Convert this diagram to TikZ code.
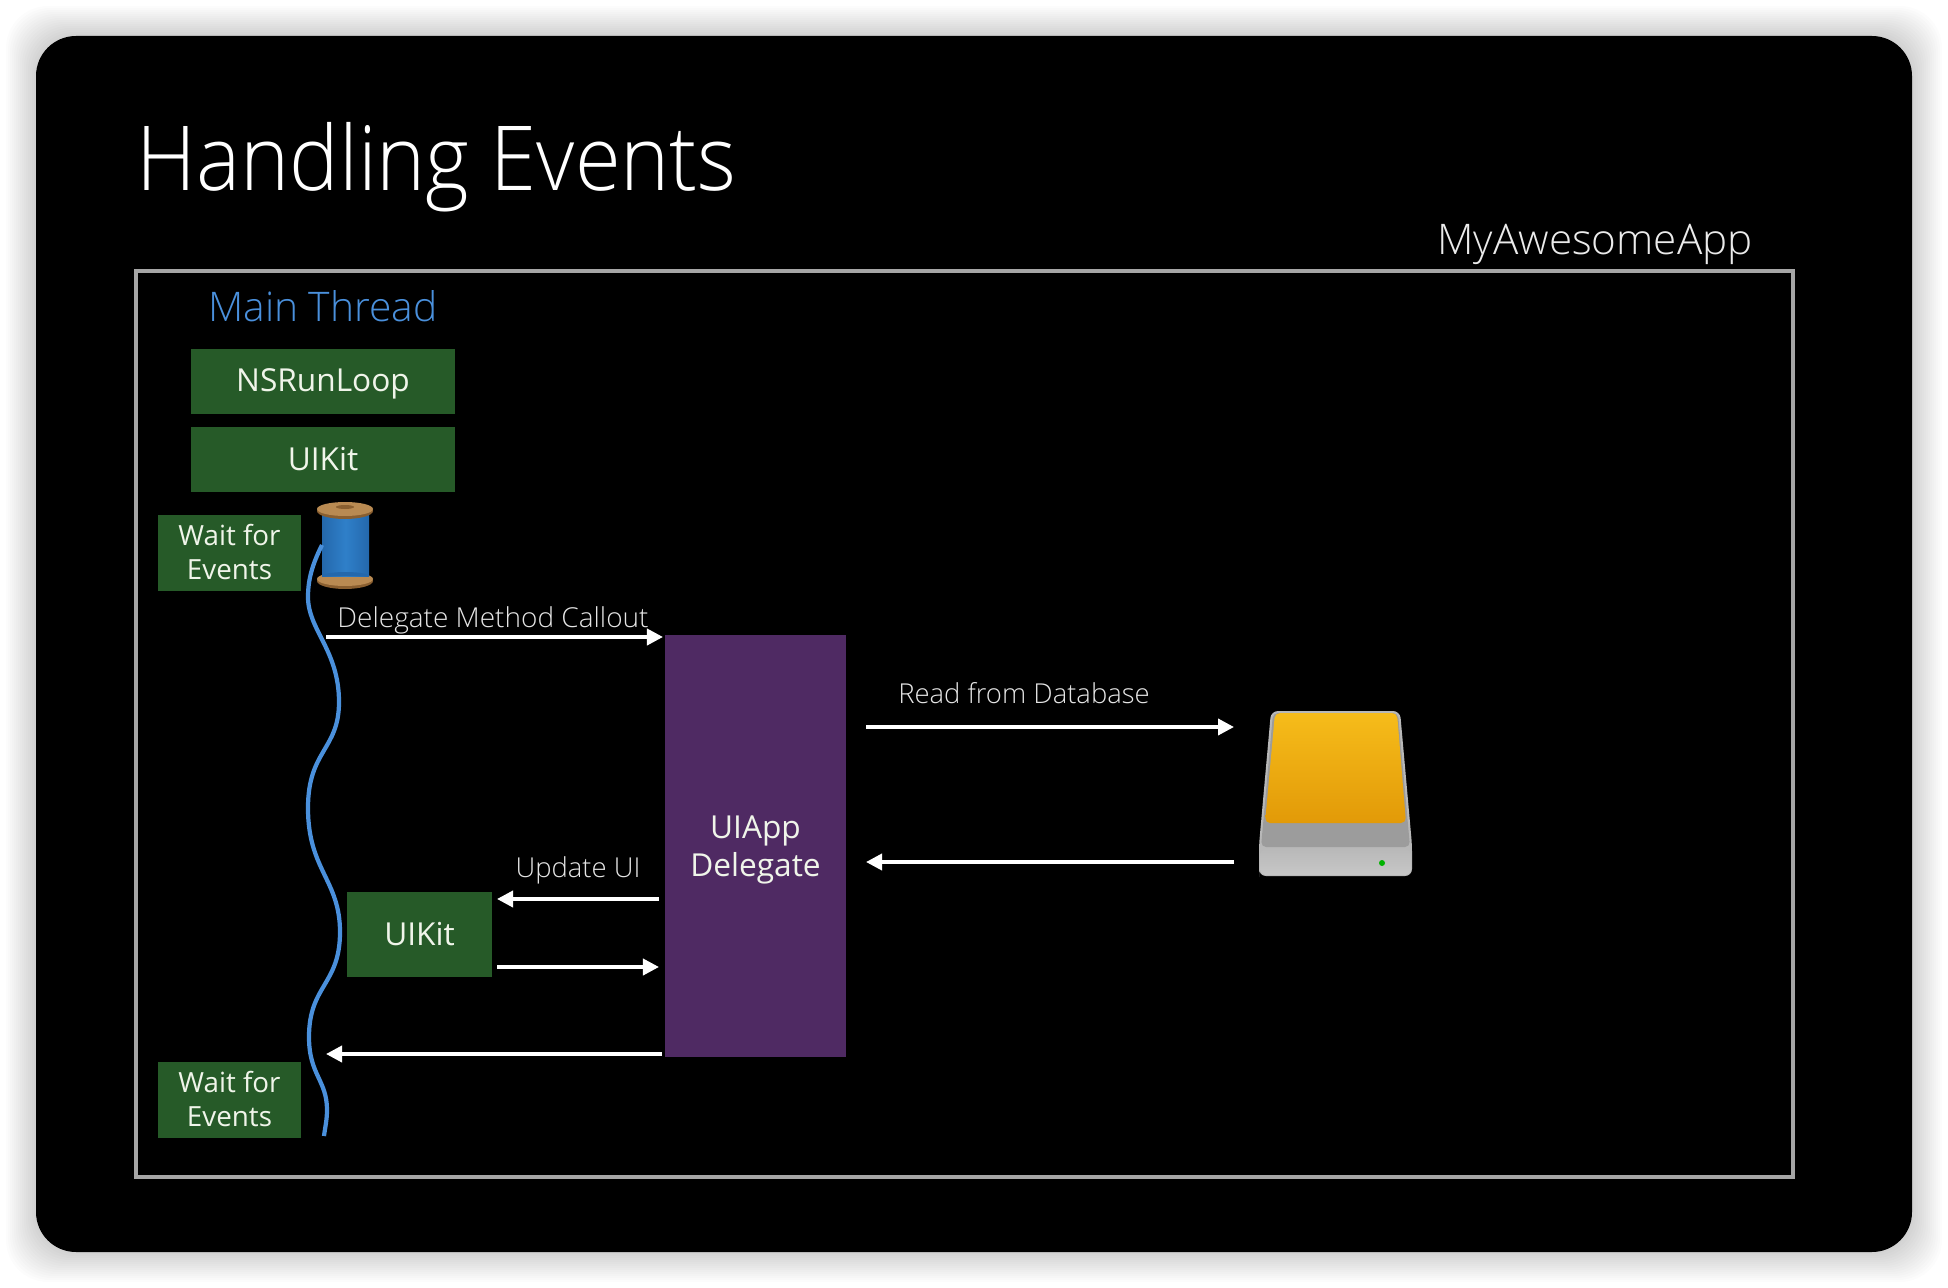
\documentclass[tikz,border=0pt]{standalone}
\usepackage{fontspec}
\setmainfont{Open Sans Light}
\newfontfamily\bodyfont{Open Sans}
\usetikzlibrary{arrows.meta}
\definecolor{boxgreen}{HTML}{265A28}
\definecolor{boxpurple}{HTML}{4F2A63}
\definecolor{threadblue}{HTML}{4A90DC}
\definecolor{framegray}{HTML}{A6A6A6}
\definecolor{labelwhite}{HTML}{F0F5EA}
\definecolor{spooltan}{HTML}{B98A52}
\definecolor{spooldark}{HTML}{8A5F30}
\definecolor{spoolblue}{HTML}{2F7FC9}
\definecolor{spoolshade}{HTML}{2468AC}
\definecolor{driveyellow}{HTML}{F6BC1A}
\definecolor{driveorange}{HTML}{E29A08}
\tikzset{
    greenbox/.style={fill=boxgreen,text=labelwhite,font=\bodyfont\fontsize{9}{10.6}\selectfont,align=center,inner sep=0pt},
    widebox/.style={greenbox,minimum width=2.64cm,minimum height=.65cm},
    waitbox/.style={greenbox,minimum width=1.43cm,minimum height=.76cm,font=\bodyfont\fontsize{7.9}{9.5}\selectfont},
    flow/.style={-{Triangle[length=.16cm,width=.16cm]},white,line width=1.05pt},
    caption/.style={text=white!90!black,font=\fontsize{7.8}{9}\selectfont,inner sep=0pt}
}
\begin{document}
\begin{tikzpicture}[x=.01cm,y=-.01cm]
        \useasboundingbox (0,0) rectangle (1948,1288);
        % soft edge round the slide
        \foreach \s in {2,4,...,30} {
            \fill[black,opacity=.011,rounded corners=.42cm] (36-\s,36-\s) rectangle (1912+\s,1252+\s);
        }
        \fill[black,rounded corners=.4cm] (36,36) rectangle (1912,1252);
        \draw[framegray,line width=1.25pt] (136,271) rectangle (1793,1177);

        \node[text=white,font=\fontsize{25.5}{28}\selectfont,anchor=base west,inner sep=0pt,xscale=.928] (title) at (136,191) {Handling Events};
        \node[text=white!92!black,font=\fontsize{12}{14}\selectfont,inner sep=0pt] (appname) at (1595,244) {MyAwesomeApp};
        \node[text=threadblue,font=\fontsize{11.6}{14}\selectfont,inner sep=0pt] (mainthread) at (323,306) {Main Thread};

        \node[widebox] (runloop) at (323,381.5) {\rule{0pt}{8pt}NSRunLoop};
        \node[widebox] (uikit) at (323,459.5) {UIKit};
        \node[waitbox] (waittop) at (229.5,553) {Wait for\\Events\rule[-.6pt]{0pt}{.6pt}};
        \node[waitbox] (waitbottom) at (229.5,1100) {Wait for\\Events\rule[-.6pt]{0pt}{.6pt}};
        \node[greenbox,minimum width=1.45cm,minimum height=.85cm] (uikitcall) at (419.5,934.5) {UIKit};
        \node[greenbox,fill=boxpurple,minimum width=1.81cm,minimum height=4.22cm,font=\bodyfont\fontsize{9}{11}\selectfont] (delegate) at (755.5,846) {\rule{0pt}{8.7pt}UIApp\\Delegate};

        % spool
        \fill[spooldark] (345,581) ellipse (28 and 8);
        \fill[spooltan] (345,579) ellipse (28 and 7);
        \shade[left color=spoolshade,right color=spoolshade,middle color=spoolblue] (322,508) rectangle (369,576);
        \fill[spoolshade] (322,576) arc (180:360:23.5 and 4) -- cycle;
        \fill[spooldark] (345,511) ellipse (28 and 8);
        \fill[spooltan] (345,509) ellipse (28 and 7);
        \fill[spooldark] (345,507) ellipse (9 and 2);

        % thread running off the spool
        \coordinate (threadtop) at (322,545);
        \coordinate (threadend) at (324,1136);
        \draw[threadblue,line width=1.2pt] (threadtop) .. controls (312,565) and (308,580) .. (308,597)
            .. controls (308,630) and (339,650) .. (339,702)
            .. controls (339,750) and (308,750) .. (308,808)
            .. controls (308,870) and (340,880) .. (340,932)
            .. controls (340,985) and (309,985) .. (309,1037)
            .. controls (309,1075) and (327,1080) .. (327,1110)
            .. controls (327,1120) and (325,1128) .. (threadend);

        % drive
        \fill[white!72!black,rounded corners=.07cm] (1259,870) -- (1259,845) -- (1271,711) -- (1400,711) -- (1412,845) -- (1412,876) -- (1259,876) -- cycle;
        \fill[gray!78!white,rounded corners=.05cm] (1261,847) -- (1273,713) -- (1398,713) -- (1410,847) -- cycle;
        \shade[top color=driveyellow,bottom color=driveorange,rounded corners=.05cm] (1265,823) -- (1275,713) -- (1397,713) -- (1406,823) -- cycle;
        \shade[top color=gray!55!white,bottom color=white!78!black,rounded corners=.06cm] (1260,849) rectangle (1411,875);
        \fill[green!70!black] (1382,863) circle (3);

        % call arrows
        \coordinate (calloutstart) at (326,637);
        \coordinate (calloutend) at (663,637);
        \coordinate (readstart) at (866,727);
        \coordinate (readend) at (1234,727);
        \coordinate (replystart) at (1234,862);
        \coordinate (replyend) at (866,862);
        \coordinate (updatestart) at (659,899);
        \coordinate (updateend) at (497,899);
        \coordinate (donestart) at (497,967);
        \coordinate (doneend) at (659,967);
        \coordinate (backstart) at (662,1054);
        \coordinate (backend) at (326,1054);
        \draw[flow] (calloutstart) -- (calloutend);
        \draw[flow] (readstart) -- (readend);
        \draw[flow] (replystart) -- (replyend);
        \draw[flow] (updatestart) -- (updateend);
        \draw[flow] (donestart) -- (doneend);
        \draw[flow] (backstart) -- (backend);

        \node[caption,xscale=1.02] (calloutlabel) at (493,620) {Delegate Method Callout};
        \node[caption] (readlabel) at (1024,693) {Read from Database};
        \node[caption] (updatelabel) at (578,870) {Update UI};
\end{tikzpicture}
\end{document}
